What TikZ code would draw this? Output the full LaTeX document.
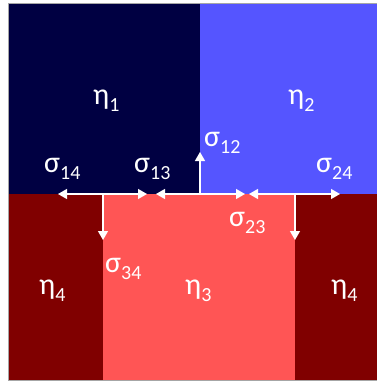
\documentclass[tikz,border=0pt]{standalone}
\usepackage{fontspec}
\setmainfont{Carlito}
\usetikzlibrary{arrows.meta}
\definecolor{navy}{RGB}{0,0,66}
\definecolor{lblue}{RGB}{85,85,255}
\definecolor{dred}{RGB}{128,0,0}
\definecolor{lred}{RGB}{255,85,85}
\newcommand\lbl[2]{#1\raisebox{-7pt}{\fontsize{20}{20}\selectfont #2}}
\begin{document}
\begin{tikzpicture}[x=1pt,y=-1pt,
  conn/.style={white, line width=1.3pt, -{Triangle[length=9pt,width=10pt]}},
  lab/.style={text=white, anchor=base west, inner sep=0pt, font=\fontsize{30}{30}\selectfont}]
\useasboundingbox (0,0) rectangle (377,383);
\begin{scope}
\clip (0,0) rectangle (377,383);
\fill[navy] (8,3) rectangle (200,194);
\fill[lblue] (200,3) rectangle (380,194);
\fill[dred] (8,194) rectangle (103,380);
\fill[lred] (103,194) rectangle (295,380);
\fill[dred] (295,194) rectangle (380,380);
\draw[gray!70, line width=1pt] (8,3) rectangle (380,380);
\end{scope}
\coordinate (j1) at (103,194);
\coordinate (j2) at (200,194);
\coordinate (j3) at (295,194);
\coordinate (t14) at (58,194);
\coordinate (t13a) at (147,194);
\coordinate (t13b) at (156,194);
\coordinate (t12) at (200,152);
\coordinate (t23a) at (245,194);
\coordinate (t23b) at (249,194);
\coordinate (t24) at (340,194);
\coordinate (t34) at (103,240);
\coordinate (t4r) at (295,240);
\draw[conn] (j1) -- (t14);
\draw[conn] (j1) -- (t13a);
\draw[conn] (j1) -- (t34);
\draw[conn] (j2) -- (t13b);
\draw[conn] (j2) -- (t23a);
\draw[conn] (j2) -- (t12);
\draw[conn] (j3) -- (t23b);
\draw[conn] (j3) -- (t24);
\draw[conn] (j3) -- (t4r);
\node[lab] (e1) at (93,104) {\lbl{η}{1}};
\node[lab] (e2) at (288,104) {\lbl{η}{2}};
\node[lab] (e3) at (185,294) {\lbl{η}{3}};
\node[lab] (e4a) at (39,294) {\lbl{η}{4}};
\node[lab] (e4b) at (331,294) {\lbl{η}{4}};
\node[lab] (s14) at (44,172) {\lbl{σ}{14}};
\node[lab] (s13) at (134,172) {\lbl{σ}{13}};
\node[lab] (s12) at (204,146) {\lbl{σ}{12}};
\node[lab] (s24) at (316,172) {\lbl{σ}{24}};
\node[lab] (s23) at (229,226) {\lbl{σ}{23}};
\node[lab] (s34) at (105,272) {\lbl{σ}{34}};
\end{tikzpicture}
\end{document}
